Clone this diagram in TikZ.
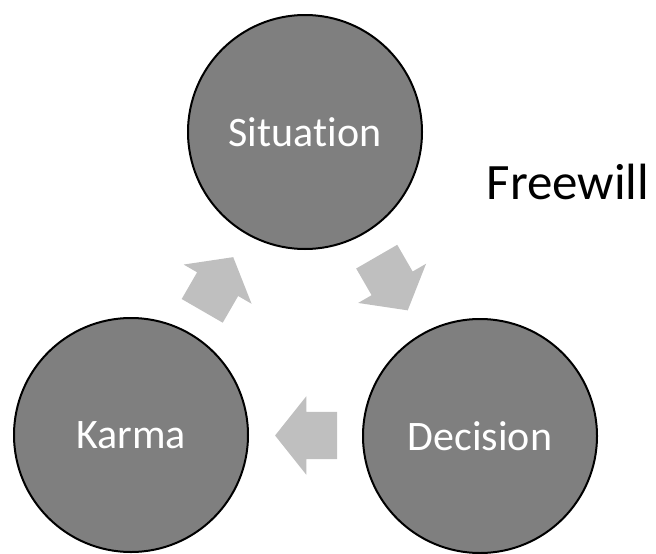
\documentclass[tikz,border=0pt]{standalone}
\usepackage{fontspec}
\setmainfont{Carlito}[RawFeature=-liga]
\usetikzlibrary{shapes.arrows,calc}

\definecolor{stagegray}{HTML}{7F7F7F}
\definecolor{flowgray}{HTML}{BFBFBF}

\tikzset{
	stage/.style={circle, draw=black, line width=2pt, fill=stagegray, text=white, minimum size=234pt, inner sep=0pt, font=\fontsize{42}{50}\selectfont},
	flow/.style={single arrow, fill=flowgray, draw=none, minimum height=62pt, inner xsep=0pt, inner ysep=23.5pt, single arrow head extend=15.5pt, single arrow tip angle=103, single arrow head indent=0pt}
}

\begin{document}
\begin{tikzpicture}[x=1pt,y=-1pt]
\useasboundingbox (0,0) rectangle (656,554);

\node (situation) at (305,132) [stage] {Situation};
\node (karma) at (131,435) [stage] {Karma};
\node (decision) at (480,436) [stage] {Decision};

\node (freewill) at (568,199) [anchor=base, font=\fontsize{51}{61}\selectfont] {Freewill};

% cycle arrows between the stages
\node (karmaToSituation) at ($(karma)!0.5!(situation)$) [flow, rotate=60, xshift=-10pt] {};
\node (situationToDecision) at ($(situation)!0.5!(decision)$) [flow, rotate=-60, xshift=-10pt] {};
\node (decisionToKarma) at ($(decision)!0.5!(karma)$) [flow, rotate=180, xshift=-10pt] {};

\end{tikzpicture}
\end{document}
